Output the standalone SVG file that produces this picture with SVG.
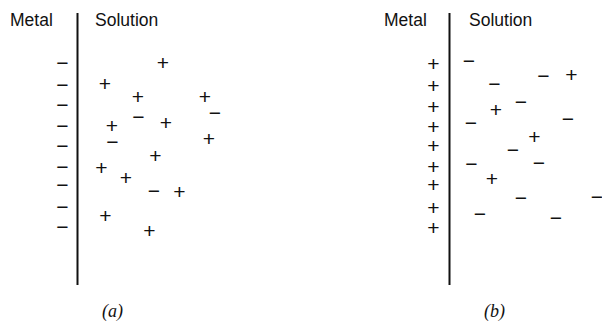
<svg xmlns="http://www.w3.org/2000/svg" width="602" height="321" viewBox="0 0 602 321">
<style>
.lbl{font-family:"Liberation Sans",Arial,sans-serif;font-size:17.5px;fill:#111}
.cap{font-family:"Liberation Serif","Times New Roman",serif;font-style:italic;font-size:18px;fill:#111}
.q{font-family:"Liberation Sans",Arial,sans-serif;font-size:21px;fill:#111;text-anchor:middle}
.wall{stroke:#111;stroke-width:2;fill:none}
</style>
<rect width="602" height="321" fill="#fff"/>
<g id="panel-a">
<line class="wall" x1="77.5" y1="13" x2="77.5" y2="285"/>
<text class="lbl" x="10" y="26">Metal</text>
<text class="lbl" x="95" y="26">Solution</text>
<g id="metal-a-charges">
<text class="q" x="62.5" y="69.5">−</text>
<text class="q" x="62.5" y="92">−</text>
<text class="q" x="62.5" y="112">−</text>
<text class="q" x="62.5" y="133">−</text>
<text class="q" x="62.5" y="152.5">−</text>
<text class="q" x="62.5" y="174">−</text>
<text class="q" x="62.5" y="191.5">−</text>
<text class="q" x="62.5" y="214">−</text>
<text class="q" x="62.5" y="234">−</text>
</g>
<g id="solution-a-charges">
<text class="q" x="163" y="69.5">+</text>
<text class="q" x="105" y="90.5">+</text>
<text class="q" x="138" y="104">+</text>
<text class="q" x="205" y="104">+</text>
<text class="q" x="138.5" y="123.5">−</text>
<text class="q" x="215" y="120">−</text>
<text class="q" x="112" y="132.5">+</text>
<text class="q" x="166" y="130">+</text>
<text class="q" x="209" y="146">+</text>
<text class="q" x="112.5" y="149">−</text>
<text class="q" x="155.5" y="162.5">+</text>
<text class="q" x="101.5" y="175">+</text>
<text class="q" x="126" y="184.5">+</text>
<text class="q" x="154" y="198">−</text>
<text class="q" x="179.5" y="199">+</text>
<text class="q" x="105.5" y="222.5">+</text>
<text class="q" x="149.5" y="237.5">+</text>
</g>
<text class="cap" x="102" y="317">(a)</text>
</g>
<g id="panel-b">
<line class="wall" x1="449.5" y1="13" x2="449.5" y2="285"/>
<text class="lbl" x="384" y="26">Metal</text>
<text class="lbl" x="469" y="26">Solution</text>
<g id="metal-b-charges">
<text class="q" x="433.5" y="71">+</text>
<text class="q" x="433.5" y="93">+</text>
<text class="q" x="433.5" y="113.5">+</text>
<text class="q" x="433.5" y="133.5">+</text>
<text class="q" x="433.5" y="152.5">+</text>
<text class="q" x="433.5" y="174">+</text>
<text class="q" x="433.5" y="191.5">+</text>
<text class="q" x="433.5" y="214.5">+</text>
<text class="q" x="433.5" y="234.5">+</text>
</g>
<g id="solution-b-charges">
<text class="q" x="469" y="68">−</text>
<text class="q" x="543.5" y="83">−</text>
<text class="q" x="571.5" y="81.5">+</text>
<text class="q" x="494.5" y="91">−</text>
<text class="q" x="521" y="109">−</text>
<text class="q" x="496" y="116.5">+</text>
<text class="q" x="471" y="130">−</text>
<text class="q" x="568" y="125.5">−</text>
<text class="q" x="534.5" y="144">+</text>
<text class="q" x="513" y="157">−</text>
<text class="q" x="539" y="169.5">−</text>
<text class="q" x="492" y="186">+</text>
<text class="q" x="471.5" y="171">−</text>
<text class="q" x="521" y="205">−</text>
<text class="q" x="597" y="204">−</text>
<text class="q" x="480" y="220.5">−</text>
<text class="q" x="556" y="225">−</text>
</g>
<text class="cap" x="484" y="317">(b)</text>
</g>
</svg>
